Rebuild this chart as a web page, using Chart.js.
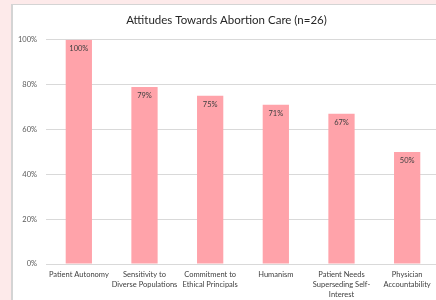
<!DOCTYPE html>
<html>
<head>
<meta charset="utf-8">
<script src="https://cdn.jsdelivr.net/npm/chart.js@4"></script>
<style>
  html, body { margin: 0; padding: 0; background: #fdeaea; overflow: hidden; }
  #card {
    position: absolute; left: 11px; top: 4px; width: 440px; height: 310px;
    background: #fff; border-left: 2px solid #d4d4d4; border-top: 1px solid #d4d4d4;
  }
  #myChart { display: block; }
</style>
</head>
<body>
<div id="card"><canvas id="myChart" width="440" height="301"></canvas></div>
<script>
const categories = [
    ['Patient Autonomy'],
    ['Sensitivity to', 'Diverse Populations'],
    ['Commitment to', 'Ethical Principals'],
    ['Humanism'],
    ['Patient Needs', 'Superseding Self-', 'Interest'],
    ['Physician', 'Accountability']
];
const percentages = [100, 79, 75, 71, 67, 50];
const yTicks = [0, 20, 40, 60, 80, 100];

const fontFamily = 'Lato, "Open Sans", sans-serif';

// draws the value inside the top of each bar
const valueLabels = {
    id: 'valueLabels',
    afterDatasetsDraw(chart) {
        const ctx = chart.ctx;
        const meta = chart.getDatasetMeta(0);
        ctx.save();
        ctx.font = '7.5px ' + fontFamily;
        ctx.fillStyle = '#404040';
        ctx.textAlign = 'center';
        ctx.textBaseline = 'middle';
        meta.data.forEach((bar, i) => {
            ctx.fillText(percentages[i] + '%', bar.x, bar.y + 9);
        });
        ctx.restore();
    }
};

const ctx = document.getElementById('myChart').getContext('2d');
const myChart = new Chart(ctx, {
    type: 'bar',
    data: {
        labels: categories,
        datasets: [{
            label: 'Attitudes',
            data: percentages,
            backgroundColor: '#ffa3aa',
            borderWidth: 0,
            barPercentage: 0.4,
            categoryPercentage: 1
        }]
    },
    options: {
        responsive: false,
        animation: false,
        layout: { padding: { left: 0, right: 13, top: 0, bottom: 0 } },
        plugins: {
            legend: { display: false },
            tooltip: { enabled: false },
            title: {
                display: true,
                text: 'Attitudes Towards Abortion Care (n=26)',
                color: '#262626',
                font: { family: fontFamily, size: 11.5, weight: 'normal' },
                padding: { top: 8, bottom: 13 }
            }
        },
        scales: {
            x: {
                grid: { display: false, drawTicks: false },
                border: { color: '#d9d9d9' },
                ticks: {
                    color: '#404040',
                    font: { family: fontFamily, size: 7.5, lineHeight: 1.33 },
                    padding: 6,
                    maxRotation: 0,
                    autoSkip: false
                }
            },
            y: {
                min: 0,
                max: 100,
                afterBuildTicks: axis => { axis.ticks = yTicks.map(v => ({ value: v })); },
                afterFit: axis => { axis.width = 33; },
                grid: { color: '#d9d9d9', drawTicks: false },
                border: { display: false },
                ticks: {
                    color: '#595959',
                    font: { family: fontFamily, size: 7.5 },
                    padding: 9,
                    callback: v => v + '%'
                }
            }
        }
    },
    plugins: [valueLabels]
});
</script>
</body>
</html>
